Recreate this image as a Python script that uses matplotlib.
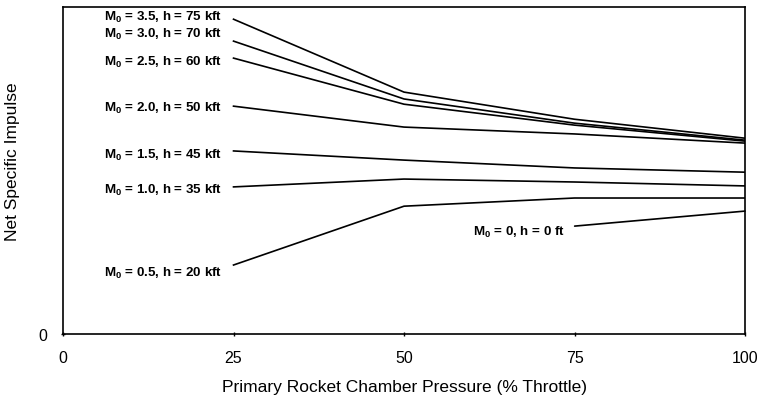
import matplotlib.pyplot as plt

plt.rcParams['font.family'] = ['Liberation Sans', 'DejaVu Sans']
plt.rcParams['mathtext.default'] = 'regular'

# throttle settings (% of full chamber pressure)
throttle = [25, 50, 75, 100]

# net specific impulse, arbitrary units
isp_35 = [96.3, 74.0, 65.7, 59.9]
isp_30 = [89.6, 71.9, 64.5, 59.3]
isp_25 = [84.4, 70.3, 63.9, 59.0]
isp_20 = [69.7, 63.3, 61.2, 58.4]
isp_15 = [56.0, 53.2, 50.8, 49.5]
isp_10 = [45.0, 47.4, 46.5, 45.3]
isp_05 = [21.1, 39.1, 41.6, 41.6]
isp_00 = 37.6  # only at full throttle

curves = [isp_35, isp_30, isp_25, isp_20, isp_15, isp_10, isp_05]
labels = ['M$_0$ = 3.5, h = 75 kft', 'M$_0$ = 3.0, h = 70 kft',
          'M$_0$ = 2.5, h = 60 kft', 'M$_0$ = 2.0, h = 50 kft',
          'M$_0$ = 1.5, h = 45 kft', 'M$_0$ = 1.0, h = 35 kft',
          'M$_0$ = 0.5, h = 20 kft']
label_y = [97.2, 92.0, 83.5, 69.4, 55.0, 44.3, 18.9]

fig = plt.figure(figsize=(7.63, 4.06), dpi=100)
ax = fig.add_axes([0.0826, 0.1749, 0.8938, 0.8051])

for vals in curves:
    ax.plot(throttle, vals, color='black', lw=1.2)

for lab, ly in zip(labels, label_y):
    ax.text(23.4, ly, lab, ha='right', va='center', fontsize=9.6,
            fontweight='bold')

ax.annotate('M$_0$ = 0, h = 0 ft', xy=(100, isp_00), xytext=(73.6, 31.5),
            ha='right', va='center', fontsize=9.6, fontweight='bold',
            arrowprops=dict(arrowstyle='-', color='black', lw=1.2,
                            shrinkA=5, shrinkB=0))

ax.set_xlim(0, 100)
ax.set_ylim(0, 100)
ax.set_xticks([0, 25, 50, 75, 100])
ax.set_yticks([0])
ax.tick_params(direction='inout', length=3, width=1, labelsize=11.5, pad=10)
for s in ax.spines.values():
    s.set_linewidth(1.2)

ax.set_xlabel('Primary Rocket Chamber Pressure (% Throttle)', fontsize=12.5,
              labelpad=10)
ax.set_ylabel('Net Specific Impulse', fontsize=12.5)
ax.yaxis.set_label_coords(-0.063, 0.529)

fig.savefig('out.png', dpi=100)
